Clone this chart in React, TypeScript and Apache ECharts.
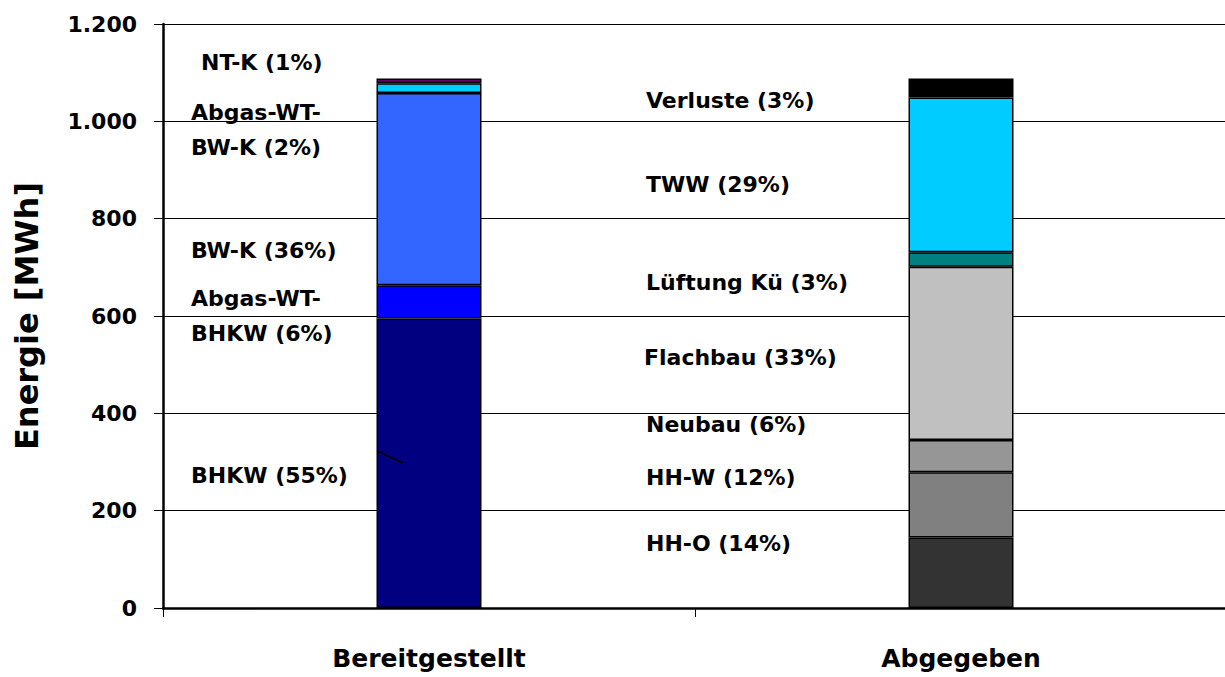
import React, { useEffect, useRef } from "react";
import * as echarts from "echarts";

const categories = ["Bereitgestellt", "Abgegeben"];

// Bereitgestellt (left bar), bottom to top
const supplyNames = ["BHKW", "Abgas-WT-BHKW", "BW-K", "Abgas-WT-BW-K", "NT-K"];
const supplyValues = [595, 68, 395, 20, 10];
const supplyColors = ["#000080", "#0000FF", "#3366FF", "#00CCFF", "#660066"];

// Abgegeben (right bar), bottom to top
const demandNames = ["HH-O", "HH-W", "Neubau", "Flachbau", "Lüftung Kü", "TWW", "Verluste"];
const demandValues = [145, 134, 66, 356, 30, 318, 39];
const demandColors = ["#333333", "#808080", "#969696", "#C0C0C0", "#008080", "#00CCFF", "#000000"];

const yTicks = [0, 200, 400, 600, 800, 1000, 1200];

// annotation texts
const supplyLabels = ["NT-K (1%)", "Abgas-WT-", "BW-K (2%)", "BW-K (36%)", "Abgas-WT-", "BHKW (6%)", "BHKW (55%)"];
const demandLabels = ["Verluste (3%)", "TWW (29%)", "Lüftung Kü (3%)", "Flachbau (33%)", "Neubau (6%)", "HH-W (12%)", "HH-O (14%)"];

const FONT = "DejaVu Sans";

export default function App() {
  const ref = useRef<HTMLDivElement>(null);
  useEffect(() => {
    if (!ref.current) return;
    const chart = echarts.init(ref.current, null, { renderer: "svg" });

    const series: any[] = [];
    supplyValues.forEach((v, i) => {
      series.push({
        name: supplyNames[i],
        type: "bar",
        stack: "total",
        barWidth: 105,
        data: [v, "-"],
        itemStyle: { color: supplyColors[i], borderColor: "#000", borderWidth: 1.5 },
      });
    });
    demandValues.forEach((v, i) => {
      series.push({
        name: demandNames[i],
        type: "bar",
        stack: "total",
        barWidth: 105,
        data: ["-", v],
        itemStyle: { color: demandColors[i], borderColor: "#000", borderWidth: 1.5 },
      });
    });

    const supplyY = [62, 112, 147, 250, 298, 333, 475];
    const supplyX = [201, 191, 191, 191, 191, 191, 191];
    const demandY = [100, 184, 282, 357, 424, 477, 543];
    const demandX = [646, 646, 646, 644, 646, 646, 646];

    const textStyle = (t: string, x: number, y: number) => ({
      type: "text",
      x,
      y,
      z: 100,
      style: {
        text: t,
        fill: "#000",
        font: `bold 22px '${FONT}'`,
        textAlign: "left",
        textVerticalAlign: "middle",
      },
    });

    const graphic: any[] = [];
    supplyLabels.forEach((t, i) => graphic.push(textStyle(t, supplyX[i], supplyY[i])));
    demandLabels.forEach((t, i) => graphic.push(textStyle(t, demandX[i], demandY[i])));
    graphic.push({
      type: "line",
      z: 100,
      shape: { x1: 377, y1: 451, x2: 403, y2: 463 },
      style: { stroke: "#000", lineWidth: 1.5 },
    });

    chart.setOption({
      animation: false,
      backgroundColor: "#fff",
      grid: { left: 163, right: -2, top: 24, bottom: 69, containLabel: false, outerBoundsMode: "none" },
      xAxis: {
        type: "category",
        data: categories,
        boundaryGap: true,
        axisLine: { show: true, lineStyle: { color: "#000", width: 2.5 } },
        axisTick: { show: true, alignWithLabel: false, length: 9, lineStyle: { color: "#000", width: 1 } },
        axisLabel: {
          margin: 38,
          color: "#000",
          fontFamily: FONT,
          fontWeight: "bold",
          fontSize: 25,
        },
        splitLine: { show: false },
      },
      yAxis: {
        type: "value",
        min: yTicks[0],
        max: yTicks[yTicks.length - 1],
        interval: 200,
        name: "Energie [MWh]",
        nameLocation: "middle",
        nameGap: 120,
        nameRotate: 90,
        nameTextStyle: { color: "#000", fontFamily: FONT, fontWeight: "bold", fontSize: 32 },
        axisLine: { show: true, lineStyle: { color: "#000", width: 2.5 } },
        axisTick: { show: true, inside: false, length: 9, lineStyle: { color: "#000", width: 1 } },
        axisLabel: {
          margin: 26,
          color: "#000",
          fontFamily: FONT,
          fontWeight: "bold",
          fontSize: 22,
          formatter: (v: number) => v.toLocaleString("de-DE"),
        },
        splitLine: { show: true, lineStyle: { color: "#000", width: 1 } },
      },
      series,
      graphic,
    });
    return () => chart.dispose();
  }, []);
  return (
    <div
      ref={ref}
      style={{ position: "fixed", left: 0, top: 0, width: 1225, height: 677, background: "#fff" }}
    />
  );
}
